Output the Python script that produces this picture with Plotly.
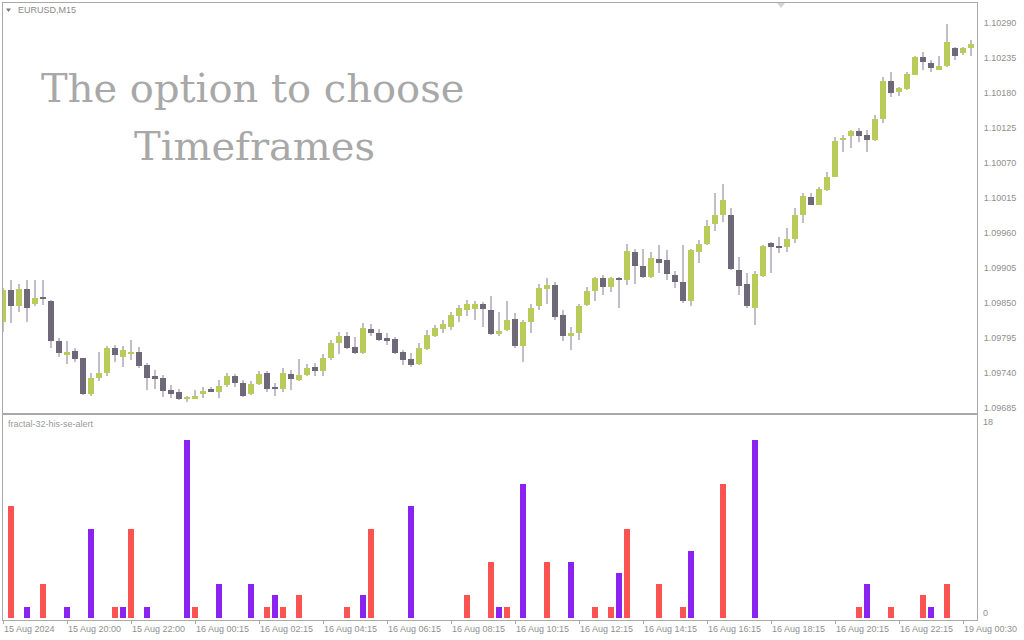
import numpy as np
import plotly.graph_objects as go

# ---------------- data ----------------
# EURUSD M15 candles (prices in points, 1 point = 0.00001)
opens = [109821,109871,109846,109872,109849,109860,109854,109790,109769,109775,
         109764,109707,109732,109740,109779,109765,109771,109774,109753,109735,
         109733,109714,109711,109700,109701,109707,109715,109710,109721,109736,
         109725,109707,109723,109740,109718,109715,109739,109729,109738,109750,
         109744,109764,109787,109799,109782,109772,109810,109803,109796,109794,
         109773,109763,109755,109778,109799,109809,109813,109830,109839,109841,
         109849,109839,109802,109808,109825,109783,109820,109845,109873,109879,
         109832,109799,109804,109847,109869,109890,109875,109890,109887,109931,
         109909,109892,109920,109918,109894,109883,109853,109931,109943,109975,
         109989,109989,109903,109881,109842,109893,109944,109940,109939,109951,
         109989,110017,110005,110028,110049,110106,110113,110121,110114,110106,
         110139,110199,110182,110187,110209,110237,110228,110217,110223,110251,
         110243,110251]
highs = [109874,109887,109881,109887,109887,109887,109855,109795,109790,109780,
         109764,109740,109774,109783,109784,109783,109792,109782,109756,109745,
         109737,109722,109715,109704,109714,109719,109718,109729,109740,109739,
         109729,109728,109743,109744,109724,109748,109745,109762,109755,109756,
         109770,109792,109805,109805,109797,109819,109817,109810,109804,109797,
         109777,109772,109788,109808,109816,109824,109837,109847,109855,109853,
         109852,109861,109837,109853,109834,109824,109849,109881,109889,109884,
         109839,109813,109849,109876,109892,109894,109892,109892,109943,109936,
         109936,109931,109942,109934,109900,109942,109936,109949,109981,110024,
         110037,109999,109923,109898,109900,109942,109947,109954,109968,109999,
         110024,110024,110033,110057,110112,110114,110122,110125,110122,110146,
         110206,110214,110190,110214,110239,110245,110232,110239,110289,110253,
         110253,110263]
lows = [109805,109819,109837,109821,109846,109847,109779,109765,109755,109758,
        109706,109705,109728,109736,109758,109750,109761,109748,109714,109716,
        109703,109701,109698,109695,109700,109701,109711,109701,109719,109719,
        109702,109706,109722,109711,109704,109711,109713,109728,109735,109736,
        109736,109761,109771,109778,109771,109771,109799,109790,109784,109770,
        109753,109750,109753,109776,109797,109804,109808,109821,109830,109824,
        109812,109800,109799,109807,109779,109757,109803,109839,109849,109824,
        109790,109777,109792,109845,109853,109863,109868,109842,109879,109881,
        109889,109889,109897,109887,109874,109851,109845,109913,109942,109963,
        109978,109902,109863,109843,109816,109892,109897,109929,109931,109944,
        109976,110004,110004,110027,110048,110088,110094,110104,110088,110105,
        110133,110174,110175,110185,110208,110217,110214,110216,110222,110232,
        110240,110239]
closes = [109871,109845,109872,109843,109858,109856,109791,109772,109774,109762,
          109707,109733,109741,109780,109768,109776,109774,109751,109733,109732,
          109712,109707,109700,109703,109704,109712,109712,109720,109736,109724,
          109704,109723,109739,109715,109716,109740,109731,109738,109748,109744,
          109764,109788,109799,109780,109772,109811,109804,109792,109790,109772,
          109761,109753,109780,109800,109811,109817,109832,109843,109849,109849,
          109841,109802,109807,109824,109783,109821,109843,109874,109879,109829,
          109799,109803,109846,109869,109890,109875,109890,109886,109932,109908,
          109892,109921,109914,109896,109884,109853,109933,109943,109971,109989,
          110012,109904,109877,109845,109896,109940,109939,109937,109951,109989,
          110019,110005,110030,110048,110105,110110,110121,110113,110106,110140,
          110199,110181,110188,110210,110237,110229,110219,110223,110261,110238,
          110251,110257]

# indicator histogram: (bar index, value)
red_idx = [1, 5, 14, 16, 24, 33, 35, 37, 43, 46, 58, 61, 63, 68, 74, 76, 78,
           82, 85, 90, 107, 111, 115, 118]
red_val = [10, 3, 1, 8, 1, 1, 1, 2, 1, 8, 2, 5, 1, 5, 1, 1, 8,
           3, 1, 12, 1, 1, 2, 3]
purple_idx = [3, 8, 11, 15, 18, 23, 27, 31, 34, 45, 51, 62, 65, 71, 77, 86,
              94, 108, 116]
purple_val = [1, 1, 8, 1, 1, 16, 3, 3, 2, 2, 10, 1, 12, 5, 4, 6,
              16, 3, 1]

price_ticks = [1.09685, 1.09740, 1.09795, 1.09850, 1.09905, 1.09960, 1.10015,
               1.10070, 1.10125, 1.10180, 1.10235, 1.10290]
time_tick_idx = list(range(0, 121, 8))
time_tick_labels = ["15 Aug 2024", "15 Aug 20:00", "15 Aug 22:00", "16 Aug 00:15",
                    "16 Aug 02:15", "16 Aug 04:15", "16 Aug 06:15", "16 Aug 08:15",
                    "16 Aug 10:15", "16 Aug 12:15", "16 Aug 14:15", "16 Aug 16:15",
                    "16 Aug 18:15", "16 Aug 20:15", "16 Aug 22:15", "19 Aug 00:30"]

# ---------------- styling ----------------
W, H = 1024, 640
ML, MR, MT, MB = 3, 47, 3, 20
PW, PH = W - ML - MR, H - MT - MB
def px(xp): return (xp - ML) / PW
def py(yp): return (H - MB - yp) / PH

BULL = "#b9cc5a"
BEAR = "#6e6878"
WICK = "#c2bdc9"
RED = "#fb5252"
PURPLE = "#8a22f0"
AXIS = "#a9a9a9"
TXT = "#8f8f8f"
FONT = "Liberation Sans"

o = np.array(opens) / 1e5
h = np.array(highs) / 1e5
l = np.array(lows) / 1e5
c = np.array(closes) / 1e5
idx = np.arange(len(o))
up = c >= o
dn = ~up
body_base = np.minimum(o, c)
body_h = np.maximum(np.abs(c - o), 0.000012)

fig = go.Figure()
fig.add_trace(go.Bar(x=idx, y=h - l, base=l, width=0.13, marker=dict(color=WICK, line=dict(width=0)),
                     xaxis="x", yaxis="y", hoverinfo="skip"))
fig.add_trace(go.Bar(x=idx[up], y=body_h[up], base=body_base[up], width=0.78,
                     marker=dict(color=BULL, line=dict(width=0)), xaxis="x", yaxis="y"))
fig.add_trace(go.Bar(x=idx[dn], y=body_h[dn], base=body_base[dn], width=0.78,
                     marker=dict(color=BEAR, line=dict(width=0)), xaxis="x", yaxis="y"))
fig.add_trace(go.Bar(x=red_idx, y=red_val, width=0.68, marker=dict(color=RED, line=dict(width=0)),
                     xaxis="x2", yaxis="y2"))
fig.add_trace(go.Bar(x=purple_idx, y=purple_val, width=0.68, marker=dict(color=PURPLE, line=dict(width=0)),
                     xaxis="x2", yaxis="y2"))

xr = [0, PW / 8.0]
p_top = 1.10290 + (23.3 - 3) * 0.00055 / 35
p_bot = 1.10290 - (413 - 23.3) * 0.00055 / 35

fig.update_layout(
    width=W, height=H,
    margin=dict(l=ML, r=MR, t=MT, b=MB),
    paper_bgcolor="white", plot_bgcolor="white",
    barmode="overlay", showlegend=False, bargap=0,
    font=dict(family=FONT, size=9, color=TXT),
    xaxis=dict(domain=[0, 1], range=xr, anchor="y", showticklabels=False, showgrid=False,
               zeroline=False, showline=True, mirror=True, linecolor=AXIS, linewidth=1, ticks=""),
    yaxis=dict(domain=[py(413), 1], range=[p_bot, p_top], side="right", anchor="x",
               tickvals=price_ticks, ticktext=[f"{v:.5f}" for v in price_ticks],
               showgrid=False, zeroline=False, showline=True, mirror=True, linecolor=AXIS,
               linewidth=1, ticks="", ticklabelstandoff=4,
               tickfont=dict(family=FONT, size=9, color=TXT)),
    xaxis2=dict(domain=[0, 1], range=xr, anchor="y2", tickvals=time_tick_idx,
                showticklabels=False, ticks="outside", ticklen=3, tickcolor=AXIS,
                showgrid=False, zeroline=False, showline=True, mirror=True, linecolor=AXIS, linewidth=1),
    yaxis2=dict(domain=[0, py(415)], range=[-0.21, 18.21], side="right", anchor="x2",
                showticklabels=False, showgrid=False, zeroline=False, showline=True,
                mirror=True, linecolor=AXIS, linewidth=1, ticks=""),
)

ann = []
for i, lab in zip(time_tick_idx, time_tick_labels):
    ann.append(dict(x=i, y=0, xref="x2", yref="paper", text=lab, showarrow=False,
                    xanchor="left", yanchor="top", xshift=-1, yshift=-2,
                    font=dict(family=FONT, size=9, color=TXT)))
ann.append(dict(x=1, xref="paper", y=18, yref="y2", text="18", showarrow=False, xanchor="left",
                yanchor="middle", xshift=4, yshift=-5, font=dict(family=FONT, size=9, color=TXT)))
ann.append(dict(x=1, xref="paper", y=0, yref="y2", text="0", showarrow=False, xanchor="left",
                yanchor="middle", xshift=4, yshift=5, font=dict(family=FONT, size=9, color=TXT)))
ann.append(dict(x=px(16), y=py(10), xref="paper", yref="paper", text="EURUSD,M15", showarrow=False,
                xanchor="left", yanchor="middle", font=dict(family=FONT, size=9, color="#8a8a8a")))
ann.append(dict(x=px(6), y=py(424), xref="paper", yref="paper", text="fractal-32-his-se-alert",
                showarrow=False, xanchor="left", yanchor="middle",
                font=dict(family=FONT, size=9, color="#9a9a9a")))
ann.append(dict(x=px(253), y=py(88), xref="paper", yref="paper", text="The option to choose",
                showarrow=False, xanchor="center", yanchor="middle",
                font=dict(family="DejaVu Serif", size=40, color="#a8a8a8")))
ann.append(dict(x=px(254), y=py(146), xref="paper", yref="paper", text="Timeframes",
                showarrow=False, xanchor="center", yanchor="middle",
                font=dict(family="DejaVu Serif", size=40, color="#a8a8a8")))
fig.update_layout(annotations=ann)

# small triangle markers
fig.update_layout(shapes=[
    dict(type="path", xref="paper", yref="paper",
         path=f"M {px(6)} {py(8.5)} L {px(11)} {py(8.5)} L {px(8.5)} {py(12)} Z",
         fillcolor="#7a7a7a", line=dict(width=0)),
    dict(type="path", xref="paper", yref="paper",
         path=f"M {px(777)} {py(3)} L {px(785)} {py(3)} L {px(781)} {py(8)} Z",
         fillcolor="#d4d4d4", line=dict(width=0)),
])

fig.write_html("out.html", config={"displayModeBar": False},
               post_script="document.body.style.margin='0';")
